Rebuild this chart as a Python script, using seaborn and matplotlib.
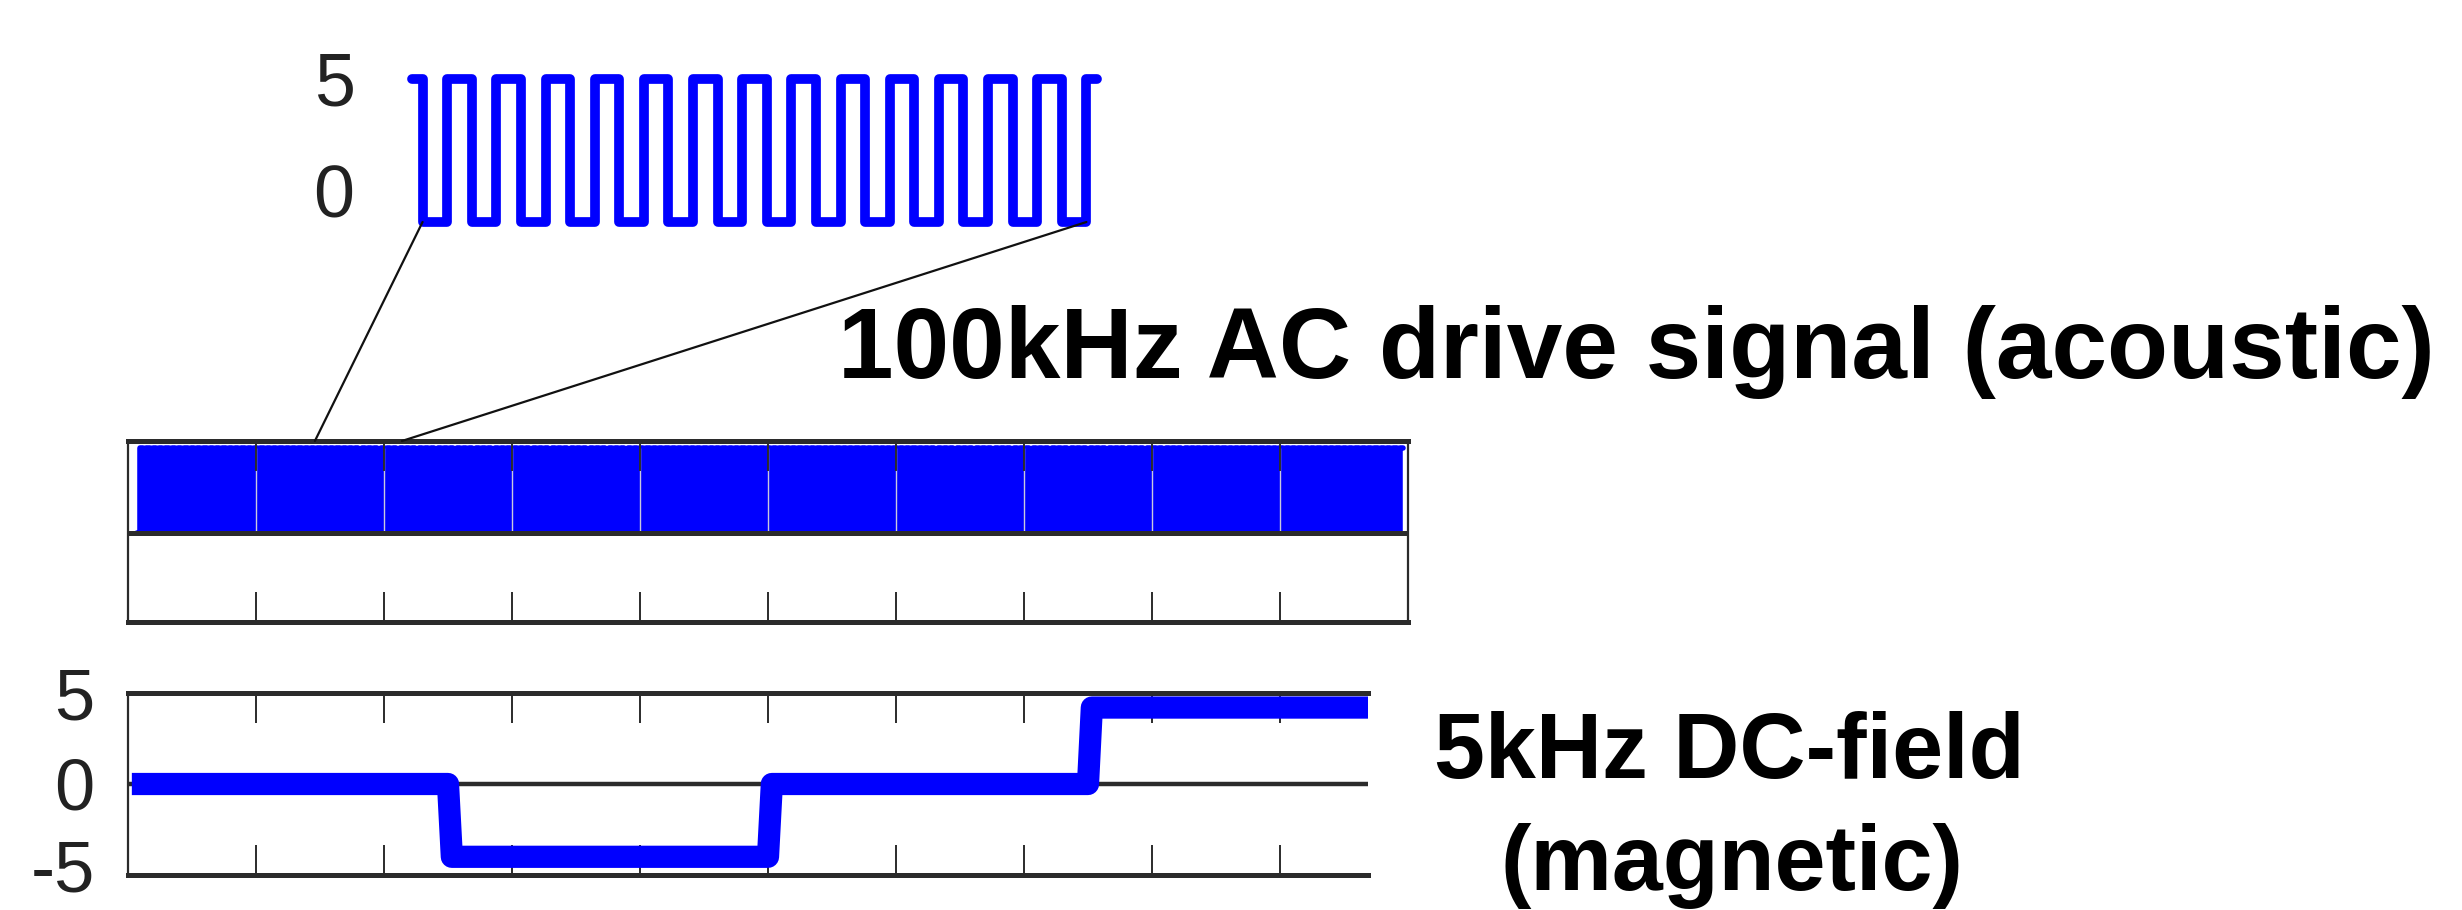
import numpy as np
import pandas as pd
import matplotlib
matplotlib.use("Agg")
import matplotlib.pyplot as plt
import matplotlib.transforms as mtransforms
import seaborn as sns
from matplotlib.patches import ConnectionPatch

# ---------------- data ----------------
# zoomed view of the 100 kHz AC drive signal (level of each half period)
inset_levels = [5.0, -1.4] * 14 + [5.0]
inset_durations = [0.43] + [1.0] * 27 + [0.43]      # half-period units
inset_yticks = [0, 5]
inset_yticklabels = ["0", "5"]

# full AC drive trace: dense square wave between two levels
ac_levels = [0.0, 4.7]
ac_cycles = 200
ac_span = [0.07, 9.96]

# 5 kHz DC-field (magnetic) steps
dc_time = [0.03, 2.50, 2.53, 5.00, 5.03, 7.50, 7.53, 9.6875]
dc_value = [0.0, 0.0, -4.0, -4.0, 0.0, 0.0, 4.2, 4.2]
dc_yticks = [-5, 0, 5]
dc_yticklabels = ["-5", "0", "5"]

x_ticks = [1, 2, 3, 4, 5, 6, 7, 8, 9]

title_ac = "100kHz AC drive signal (acoustic)"
title_dc1 = "5kHz DC-field"
title_dc2 = "(magnetic)"

# ---------------- helpers ----------------
def step_vertices(levels, durations):
    xs, ys = [], []
    t = 0.0
    for lv, d in zip(levels, durations):
        xs += [t, t + d]
        ys += [lv, lv]
        t += d
    return pd.DataFrame({"t": xs, "v": ys})

sns.set_style("white")
plt.rcParams["font.family"] = ["Liberation Sans", "DejaVu Sans"]

W, H = 2462, 910
fig = plt.figure(figsize=(W / 100, H / 100), dpi=100)

def add_axes_px(left, top, right, bottom):
    return fig.add_axes([left / W, 1 - bottom / H, (right - left) / W, (bottom - top) / H])

BLUE = "#0000ff"
DARK = "#2b2b2b"

# ---------------- inset ----------------
inset_df = step_vertices(inset_levels, inset_durations)
total = sum(inset_durations)
pxu = (1097 - 412) / total
pyu = (222 - 79) / (inset_levels[0] - inset_levels[1])
ax_in = add_axes_px(412 - 0.3 * pxu, 60, 1097 + 0.3 * pxu, 240)
sns.lineplot(data=inset_df, x="t", y="v", sort=False, estimator=None,
             color=BLUE, linewidth=7.0, ax=ax_in)
ax_in.set_xlim(-0.3, total + 0.3)
ax_in.set_ylim(inset_levels[1] - 18 / pyu, inset_levels[0] + 19 / pyu)
for s in ax_in.spines.values():
    s.set_visible(False)
ax_in.set_xticks([])
ax_in.set_yticks(inset_yticks)
ax_in.set_yticklabels(inset_yticklabels)
ax_in.tick_params(axis="y", length=0, pad=36, labelsize=53, labelcolor="#222222")
ax_in.set_xlabel("")
ax_in.set_ylabel("")
ax_in.patch.set_alpha(0)

# ---------------- middle (dense AC) ----------------
n_half = 2 * ac_cycles
ac_edges = np.linspace(ac_span[0], ac_span[1], n_half + 1)
ac_half_levels = (ac_levels * ac_cycles)
ac_df = step_vertices(ac_half_levels, np.diff(ac_edges))
ac_df["t"] += ac_span[0]

ax_mid = add_axes_px(128, 441, 1408, 622)
ax_mid.set_axisbelow(False)
sns.lineplot(data=ac_df, x="t", y="v", sort=False, estimator=None,
             color=BLUE, linewidth=4.0, ax=ax_mid)
ax_mid.vlines(x_ticks, 0, ac_levels[1], color="#c9c9dd", lw=1.0, zorder=2.2)
ax_mid.axhline(0, color=DARK, lw=3.6, zorder=3)
ax_mid.set_xlim(0, 10)
ax_mid.set_ylim(-4.9, 5.1)
ax_mid.set_xticks(x_ticks)
ax_mid.set_xticklabels([])
ax_mid.set_yticks([])
ax_mid.tick_params(axis="x", direction="in", length=21.5, width=1.4, color=DARK,
                   top=True, bottom=True)
ax_mid.spines["top"].set_linewidth(3.6)
ax_mid.spines["bottom"].set_linewidth(3.6)
ax_mid.spines["left"].set_linewidth(1.6)
ax_mid.spines["right"].set_linewidth(1.6)
for s in ax_mid.spines.values():
    s.set_color(DARK)
    s.set_visible(True)
ax_mid.set_xlabel("")
ax_mid.set_ylabel("")

# ---------------- bottom (DC field) ----------------
dc_df = pd.DataFrame({"t": dc_time, "v": dc_value})
ax_dc = add_axes_px(128, 693, 1368, 875)
ax_dc.axhline(0, color=DARK, lw=3.2, zorder=1.8)
sns.lineplot(data=dc_df, x="t", y="v", sort=False, estimator=None,
             color=BLUE, linewidth=16.0, ax=ax_dc, solid_joinstyle="round",
             solid_capstyle="butt")
ax_dc.set_xlim(0, 9.6875)
ax_dc.set_ylim(-5, 5)
ax_dc.set_xticks(x_ticks)
ax_dc.set_xticklabels([])
ax_dc.set_yticks(dc_yticks)
ax_dc.set_yticklabels(dc_yticklabels)
ax_dc.tick_params(axis="x", direction="in", length=21.5, width=1.4, color=DARK,
                  top=True, bottom=True)
ax_dc.tick_params(axis="y", length=0, pad=24, labelsize=52, labelcolor="#222222")
# the lowest label sits a little above its tick in the reference
lowest = ax_dc.get_yticklabels()[0]
lowest.set_transform(lowest.get_transform() +
                     mtransforms.ScaledTranslation(0, 9 / 100, fig.dpi_scale_trans))
ax_dc.spines["right"].set_visible(False)
ax_dc.spines["top"].set_linewidth(3.6)
ax_dc.spines["bottom"].set_linewidth(3.6)
ax_dc.spines["left"].set_linewidth(1.6)
for s in ax_dc.spines.values():
    s.set_color(DARK)
ax_dc.spines["left"].set_visible(True)
ax_dc.spines["top"].set_visible(True)
ax_dc.spines["bottom"].set_visible(True)
ax_dc.set_xlabel("")
ax_dc.set_ylabel("")

# ---------------- connector lines ----------------
for (xa, ya), (xb, yb) in [((inset_durations[0], inset_levels[1]), (1.46, 5.1)),
                           ((total - inset_durations[-1], inset_levels[1]), (2.14, 5.1))]:
    con = ConnectionPatch(xyA=(xa, ya), coordsA="data", axesA=ax_in,
                          xyB=(xb, yb), coordsB="data", axesB=ax_mid,
                          color="#111111", lw=1.6, zorder=5)
    fig.add_artist(con)

# ---------------- texts ----------------
fig.text(838 / W, 1 - 378 / H, title_ac, fontsize=72, fontweight="bold",
         ha="left", va="baseline", color="black")
fig.text(1729 / W, 1 - 778 / H, title_dc1, fontsize=66, fontweight="bold",
         ha="center", va="baseline", color="black")
fig.text(1732 / W, 1 - 890 / H, title_dc2, fontsize=66, fontweight="bold",
         ha="center", va="baseline", color="black")

fig.savefig("out.png", dpi=100, facecolor="white")
